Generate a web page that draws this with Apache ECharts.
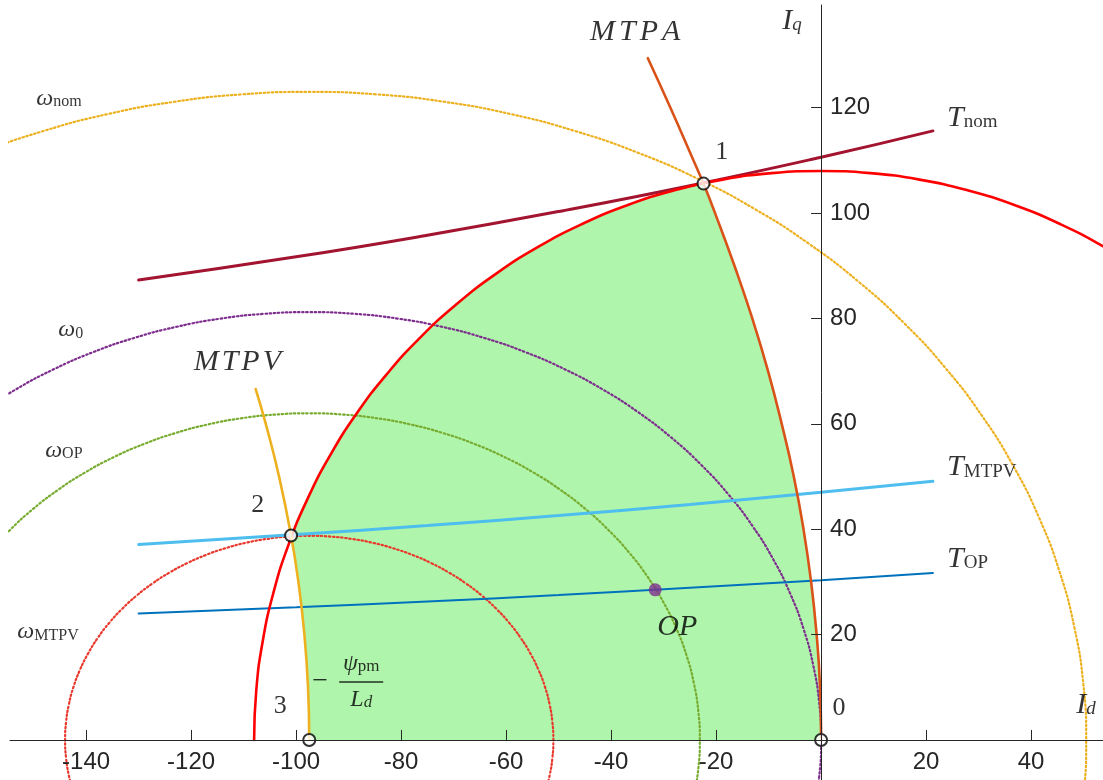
<!DOCTYPE html>
<html>
<head>
<meta charset="utf-8">
<script src="https://cdn.jsdelivr.net/npm/echarts/dist/echarts.min.js"></script>
<style>
html,body{margin:0;padding:0;background:#fff;}
#chart{width:1103px;height:780px;}
</style>
</head>
<body>
<div id="chart"></div>
<script>
// ---------------- data ----------------
const xTicks = [-140, -120, -100, -80, -60, -40, -20, 20, 40];
const yTicks = [20, 40, 60, 80, 100, 120];

// current limit circle (Id, Iq)
const currentLimit = [[61.95,88.47],[54,93.53],[45.64,97.88],[36.94,101.49],[27.95,104.32],[18.75,106.36],[9.41,107.59],[0,108],[-9.41,107.59],[-18.75,106.36],[-27.95,104.32],[-36.94,101.49],[-45.64,97.88],[-54,93.53],[-61.95,88.47],[-69.42,82.73],[-76.37,76.37],[-82.73,69.42],[-88.47,61.95],[-93.53,54],[-97.88,45.64],[-101.49,36.94],[-104.32,27.95],[-106.36,18.75],[-107.59,9.41],[-108,0]];

// MTPA and MTPV trajectories
const mtpa = [[0,0],[-0.2,10],[-0.85,20],[-1.9,30],[-3.35,40],[-5.2,50],[-7.5,60],[-10.1,70],[-13.1,80],[-16.5,90],[-20.2,100],[-22.4,105.6],[-24.3,110],[-28.7,120],[-33,129.4]];
const mtpv = [[-97.5,0],[-97.73,10],[-98.42,20],[-99.57,30],[-100.96,38.8],[-103.25,50],[-105.78,60],[-107.7,66.6]];

// constant-torque curves: shared Id samples and Iq values
const torqueId = [-130, -100, -75, -50, -25, 0, 21.3];
const tNomIq  = [87.3, 91.7, 95.8, 100.3, 105.2, 110.6, 115.6];
const tMtpvIq = [37.1, 39.0, 40.7, 42.6, 44.7, 47.0, 49.1];
const tOpIq   = [24.0, 25.2, 26.3, 27.5, 28.9, 30.3, 31.7];

// voltage-limit ellipses
const wNom = [[48.25,-21.36],[49.94,-10.72],[50.5,0],[49.94,10.72],[48.25,21.36],[45.46,31.83],[41.57,42.07],[36.63,51.98],[30.67,61.5],[23.73,70.55],[15.87,79.06],[7.15,86.97],[-2.37,94.22],[-12.61,100.76],[-23.5,106.52],[-34.95,111.48],[-46.88,115.58],[-59.19,118.81],[-71.8,121.13],[-84.6,122.53],[-97.5,123],[-110.4,122.53],[-123.2,121.13],[-135.81,118.81],[-148.12,115.58],[-160.05,111.48],[-171.5,106.52]];
const w0 = [[-1.48,-14.1],[-0.37,-7.08],[0,0],[-0.37,7.08],[-1.48,14.1],[-3.32,21.02],[-5.88,27.77],[-9.13,34.32],[-13.06,40.6],[-17.63,46.57],[-22.81,52.19],[-28.56,57.42],[-34.83,62.2],[-41.58,66.52],[-48.75,70.32],[-56.29,73.59],[-64.15,76.3],[-72.27,78.43],[-80.57,79.97],[-89.0,80.89],[-97.5,81.2],[-106.0,80.89],[-114.43,79.97],[-122.73,78.43],[-130.85,76.3],[-138.71,73.59],[-146.25,70.32],[-153.42,66.52],[-160.17,62.2]];
const wOP = [[-24.23,-10.77],[-23.38,-5.4],[-23.1,0],[-23.38,5.4],[-24.23,10.77],[-25.63,16.05],[-27.59,21.21],[-30.07,26.2],[-33.07,31.0],[-36.56,35.56],[-40.51,39.85],[-44.89,43.84],[-49.68,47.49],[-54.83,50.79],[-60.3,53.69],[-66.06,56.19],[-72.05,58.26],[-78.24,59.89],[-84.58,61.06],[-91.02,61.76],[-97.5,62],[-103.98,61.76],[-110.42,61.06],[-116.76,59.89],[-122.95,58.26],[-128.94,56.19],[-134.7,53.69],[-140.17,50.79],[-145.32,47.49],[-150.11,43.84],[-154.49,39.85],[-158.43,35.56],[-161.93,31.0]];
const wMTPV = [[-52.58,-10.03],[-51.71,-6.73],[-51.18,-3.38],[-51.0,0],[-51.18,3.38],[-51.71,6.73],[-52.58,10.03],[-53.8,13.25],[-55.36,16.38],[-57.23,19.38],[-59.41,22.23],[-61.88,24.91],[-64.62,27.4],[-67.61,29.68],[-70.83,31.74],[-74.25,33.56],[-77.85,35.12],[-81.6,36.41],[-85.46,37.43],[-89.43,38.16],[-93.45,38.6],[-97.5,38.75],[-101.55,38.6],[-105.57,38.16],[-109.54,37.43],[-113.4,36.41],[-117.15,35.12],[-120.75,33.56],[-124.17,31.74],[-127.39,29.68],[-130.38,27.4],[-133.12,24.91],[-135.59,22.23],[-137.77,19.38],[-139.64,16.38],[-141.2,13.25],[-142.42,10.03],[-143.29,6.73],[-143.82,3.38],[-144.0,0],[-143.82,-3.38],[-143.29,-6.73],[-142.42,-10.03]];

// special points
const point1 = [-22.4, 105.6];
const point2 = [-100.96, 38.8];
const point3 = [-97.5, 0];
const point0 = [0, 0];
const opPoint = [-31.6, 28.5];

// ---------------- layout ----------------
const X_MIN = -154.5, X_MAX = 53.7, Y_MIN = -7.6, Y_MAX = 139.5;
const W = 1103, H = 780;
const GRID = {left: 10, right: 0, top: 5, bottom: 0};
const gridW = W - GRID.left - GRID.right;
const gridH = H - GRID.top - GRID.bottom;
// shift the axes so that they cross at the origin (labels follow the axis)
const xAxisOffset = -((0 - Y_MIN) / (Y_MAX - Y_MIN)) * gridH;
const yAxisOffset = -((0 - X_MIN) / (X_MAX - X_MIN)) * gridW;

const zip = (xs, ys) => xs.map((x, i) => [x, ys[i]]);

// operating region polygon: x-axis -> MTPV -> current circle -> MTPA
const region = [point0]
  .concat(mtpv.filter(p => p[1] < point2[1]))
  .concat([point2])
  .concat(currentLimit.filter(p => p[0] > point2[0] && p[0] < point1[0]).reverse())
  .concat([point1])
  .concat(mtpa.filter(p => p[1] < point1[1]).reverse());

const SERIF = "'Liberation Serif','DejaVu Serif',serif";
const SANS = "'Liberation Sans',Arial,Helvetica,sans-serif";
const INK = '#000000';
const RICH = {
  mi:  {fontFamily: SERIF, fontStyle: 'italic', fontSize: 30, lineHeight: 34, color: INK},
  ml:  {fontFamily: SERIF, fontStyle: 'italic', fontSize: 30, lineHeight: 34, color: INK, padding: [0, 4, 0, 0]},
  mk:  {fontFamily: SERIF, fontStyle: 'italic', fontSize: 30, lineHeight: 34, color: INK, padding: [0, 3, 0, 0]},
  up:  {fontFamily: SERIF, fontSize: 26, lineHeight: 30, color: INK},
  sb:  {fontFamily: SERIF, fontSize: 19, lineHeight: 26, height: 26, verticalAlign: 'bottom', color: INK},
  sbi: {fontFamily: SERIF, fontStyle: 'italic', fontSize: 19, lineHeight: 26, height: 26, verticalAlign: 'bottom', color: INK},
  gi:  {fontFamily: SERIF, fontStyle: 'italic', fontSize: 24, lineHeight: 26, color: INK},
  gs:  {fontFamily: SERIF, fontSize: 16, lineHeight: 18, height: 18, verticalAlign: 'bottom', color: INK},
  fi:  {fontFamily: SERIF, fontStyle: 'italic', fontSize: 24, lineHeight: 24, color: INK},
  fs:  {fontFamily: SERIF, fontSize: 17, lineHeight: 18, height: 18, verticalAlign: 'bottom', color: INK},
  fsi: {fontFamily: SERIF, fontStyle: 'italic', fontSize: 17, lineHeight: 18, height: 18, verticalAlign: 'bottom', color: INK},
  bar: {width: 44, height: 1.6, lineHeight: 12, backgroundColor: INK},
  mn:  {fontFamily: SERIF, fontSize: 28, lineHeight: 30, color: INK}
};

function ann(pos, text, align) {
  return {
    value: pos,
    label: {show: true, formatter: text, position: [0, 0], align: align || 'center', verticalAlign: 'middle', rich: RICH}
  };
}

const annotations = [
  ann([-35.4, 134.3], '{ml|M}{ml|T}{ml|P}{mi|A}'),
  ann([-111.2, 71.7], '{mk|M}{mk|T}{mk|P}{mi|V}'),
  ann([-18.9, 111.6], '{up|1}'),
  ann([-107.3, 44.5], '{up|2}'),
  ann([-103.0, 6.5], '{up|3}'),
  ann([3.4, 6.1], '{up|0}'),
  ann([-7.4, 136.4], '{mi|I}{sbi|q}', 'left'),
  ann([48.6, 6.6], '{mi|I}{sbi|d}', 'left'),
  ann([24.0, 118.1], '{mi|T}{sb|nom}', 'left'),
  ann([24.0, 51.7], '{mi|T}{sb|MTPV}', 'left'),
  ann([24.0, 34.3], '{mi|T}{sb|OP}', 'left'),
  ann([-27.4, 21.4], '{mi|OP}'),
  ann([-149.5, 121.8], '{gi|ω}{gs|nom}', 'left'),
  ann([-145.3, 77.8], '{gi|ω}{gs|0}', 'left'),
  ann([-147.8, 55.0], '{gi|ω}{gs|OP}', 'left'),
  ann([-153.1, 20.5], '{gi|ω}{gs|MTPV}', 'left'),
  ann([-95.4, 11.0], '{mn|\u2212}'),
  ann([-87.6, 11.0], '{fi|ψ}{fs|pm}\n{bar| }\n{fi|L}{fsi|d}')
];

function curve(data, color, width, type, z) {
  return {
    type: 'line', data: data, smooth: true, smoothMonotone: 'none', symbol: 'none', showSymbol: false,
    clip: true, silent: true, z: z,
    lineStyle: {color: color, width: width, type: type || 'solid', cap: 'round'},
    emphasis: {disabled: true}
  };
}
const DOT = [1.5, 2.6];

const option = {
  animation: false,
  backgroundColor: '#ffffff',
  grid: {left: GRID.left, right: GRID.right, top: GRID.top, bottom: GRID.bottom, containLabel: false, outerBoundsMode: 'none'},
  xAxis: {
    type: 'value', min: X_MIN, max: X_MAX, z: 8, position: 'bottom', offset: xAxisOffset,
    axisLine: {onZero: false, lineStyle: {color: '#262626', width: 1}},
    axisTick: {show: true, inside: true, length: 10, customValues: xTicks, lineStyle: {color: '#262626'}},
    axisLabel: {customValues: xTicks, fontFamily: SANS, fontSize: 24, color: '#262626', margin: 10, formatter: v => String(v)},
    splitLine: {show: false}
  },
  yAxis: {
    type: 'value', min: Y_MIN, max: Y_MAX, z: 8, position: 'left', offset: yAxisOffset,
    axisLine: {onZero: false, lineStyle: {color: '#262626', width: 1}},
    axisTick: {show: true, inside: false, length: 10, customValues: yTicks, lineStyle: {color: '#262626'}},
    axisLabel: {inside: true, customValues: yTicks, fontFamily: SANS, fontSize: 24, color: '#262626', margin: 9, formatter: v => String(v)},
    splitLine: {show: false}
  },
  series: [
    {
      type: 'custom', silent: true, z: 1, clip: true,
      data: [point0],
      renderItem: function (params, api) {
        const pts = region.map(p => api.coord(p));
        return {type: 'polygon', shape: {points: pts}, style: {fill: '#B0F5AC', stroke: null}};
      }
    },
    curve(wNom, '#EDB120', 2.2, DOT, 2),
    curve(w0, '#7E2F8E', 2.2, DOT, 2),
    curve(wOP, '#77AC30', 2.2, DOT, 2),
    curve(wMTPV, '#E8392C', 2.2, DOT, 2),
    curve(zip(torqueId, tNomIq), '#A2142F', 3, 'solid', 3),
    curve(zip(torqueId, tMtpvIq), '#4DBEEE', 3, 'solid', 3),
    curve(zip(torqueId, tOpIq), '#0072BD', 2, 'solid', 3),
    curve(currentLimit, '#FF0000', 2.6, 'solid', 4),
    curve(mtpa, '#D95319', 2.6, 'solid', 4),
    curve(mtpv, '#EDB120', 2.6, 'solid', 4),
    {
      type: 'scatter', data: [point1, point2, point3, point0], symbol: 'circle', symbolSize: 12,
      itemStyle: {color: '#ffffff', borderColor: '#000', borderWidth: 2}, z: 6, silent: true, clip: false
    },
    {
      type: 'scatter', data: [opPoint], symbol: 'circle', symbolSize: 13,
      itemStyle: {color: '#7E2F8E'}, z: 6, silent: true
    },
    {
      type: 'scatter', data: annotations, symbolSize: 0, z: 7, silent: true, clip: false,
      itemStyle: {color: 'rgba(0,0,0,0)'}, labelLayout: {hideOverlap: false}
    }
  ]
};

const chart = echarts.init(document.getElementById('chart'), null, {renderer: 'canvas'});
chart.setOption(option);
</script>
</body>
</html>
